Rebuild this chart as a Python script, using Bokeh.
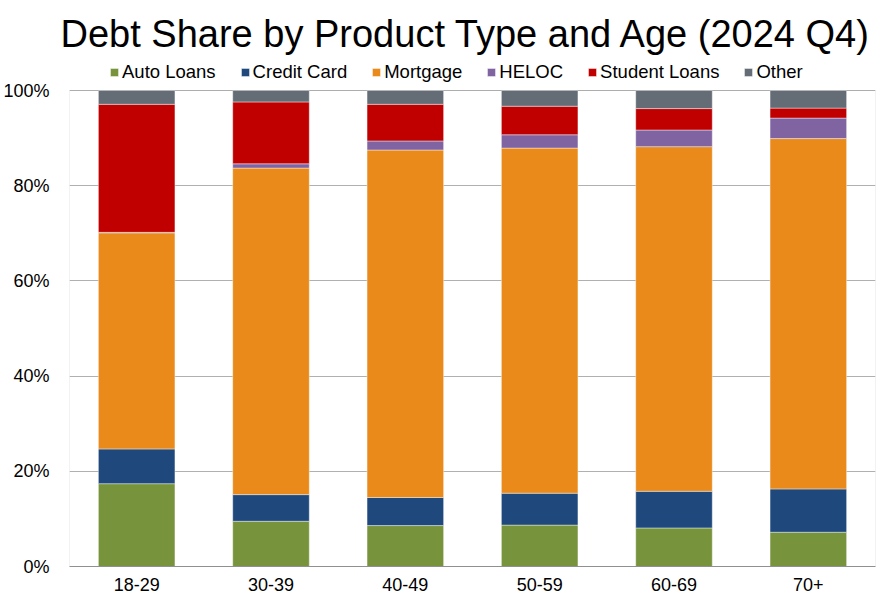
from bokeh.plotting import figure
from bokeh.models import (ColumnDataSource, FactorRange, Range1d, Legend, LegendItem,
                          FixedTicker, BoxAnnotation)
from bokeh.embed import file_html
from bokeh.resources import INLINE

ages = ["18-29", "30-39", "40-49", "50-59", "60-69", "70+"]
auto = [17.4, 9.5, 8.6, 8.7, 8.1, 7.2]
credit = [7.3, 5.6, 5.9, 6.7, 7.7, 9.1]
mortgage = [45.4, 68.6, 73.0, 72.5, 72.4, 73.6]
heloc = [0.1, 0.9, 1.9, 2.8, 3.5, 4.3]
student = [26.9, 13.0, 7.7, 6.0, 4.5, 2.1]
other = [2.9, 2.4, 2.9, 3.3, 3.8, 3.7]
series_names = ["Auto Loans", "Credit Card", "Mortgage", "HELOC", "Student Loans", "Other"]
y_ticks = [0, 20, 40, 60, 80, 100]

colors = ["#77933C", "#1F497D", "#E98A1A", "#8064A2", "#C00000", "#646C75"]
keys = ["auto", "credit", "mortgage", "heloc", "student", "other"]

source = ColumnDataSource(dict(ages=ages, auto=auto, credit=credit, mortgage=mortgage,
                               heloc=heloc, student=student, other=other))

FONT = "Liberation Sans"
TOP_BORDER = 55
PLOT_H = 476          # pixels from 0% to 100%
FRAME_H = 566 - TOP_BORDER

p = figure(x_range=FactorRange(*ages, range_padding=0),
           y_range=Range1d(0, 100 * FRAME_H / PLOT_H),
           frame_width=806, frame_height=FRAME_H,
           min_border_left=60, min_border_right=5, min_border_top=TOP_BORDER,
           min_border_bottom=23,
           output_backend="svg", toolbar_location=None,
           title="Debt Share by Product Type and Age (2024 Q4)")

p.title.text_font = FONT
p.title.text_font_size = "38px"
p.title.text_font_style = "normal"
p.title.align = "left"
p.title.offset = -9
p.title.text_color = "black"
p.title.standoff = 1

rs = p.vbar_stack(keys, x="ages", width=0.57, source=source, color=colors,
                  line_color="white", line_width=0.6, line_alpha=0.7)

# plot-area border (0% .. 100%)
p.add_layout(BoxAnnotation(bottom=0, top=100, fill_alpha=0,
                           line_color="#A6A6A6", line_width=1))

items = [LegendItem(label=n, renderers=[r]) for n, r in zip(series_names, rs)]
legend = Legend(items=items, orientation="horizontal", location=(40, 483),
                padding=0, margin=0, spacing=24, label_standoff=3,
                glyph_width=10, glyph_height=10,
                label_text_font=FONT, label_text_font_size="18.5px",
                label_text_color="black",
                border_line_color=None, background_fill_alpha=0)
p.add_layout(legend, "center")

p.outline_line_color = None
p.xgrid.grid_line_color = None
p.ygrid.grid_line_color = "#B0B0B0"
p.ygrid.grid_line_width = 1

p.yaxis.ticker = FixedTicker(ticks=y_ticks)
p.yaxis.major_label_overrides = {t: f"{t}%" for t in y_ticks}
for ax in (p.xaxis, p.yaxis):
    ax.major_tick_line_color = None
    ax.minor_tick_line_color = None
    ax.major_label_text_font = FONT
    ax.major_label_text_font_size = "18px"
    ax.major_label_text_color = "black"
p.yaxis.axis_line_color = None
p.xaxis.axis_line_color = "#8C8C8C"
p.yaxis.major_label_standoff = 14
p.xaxis.major_tick_out = 0
p.xaxis.major_tick_in = 0
p.xaxis.major_label_standoff = 11

open("out.html", "w").write(file_html(p, INLINE))
